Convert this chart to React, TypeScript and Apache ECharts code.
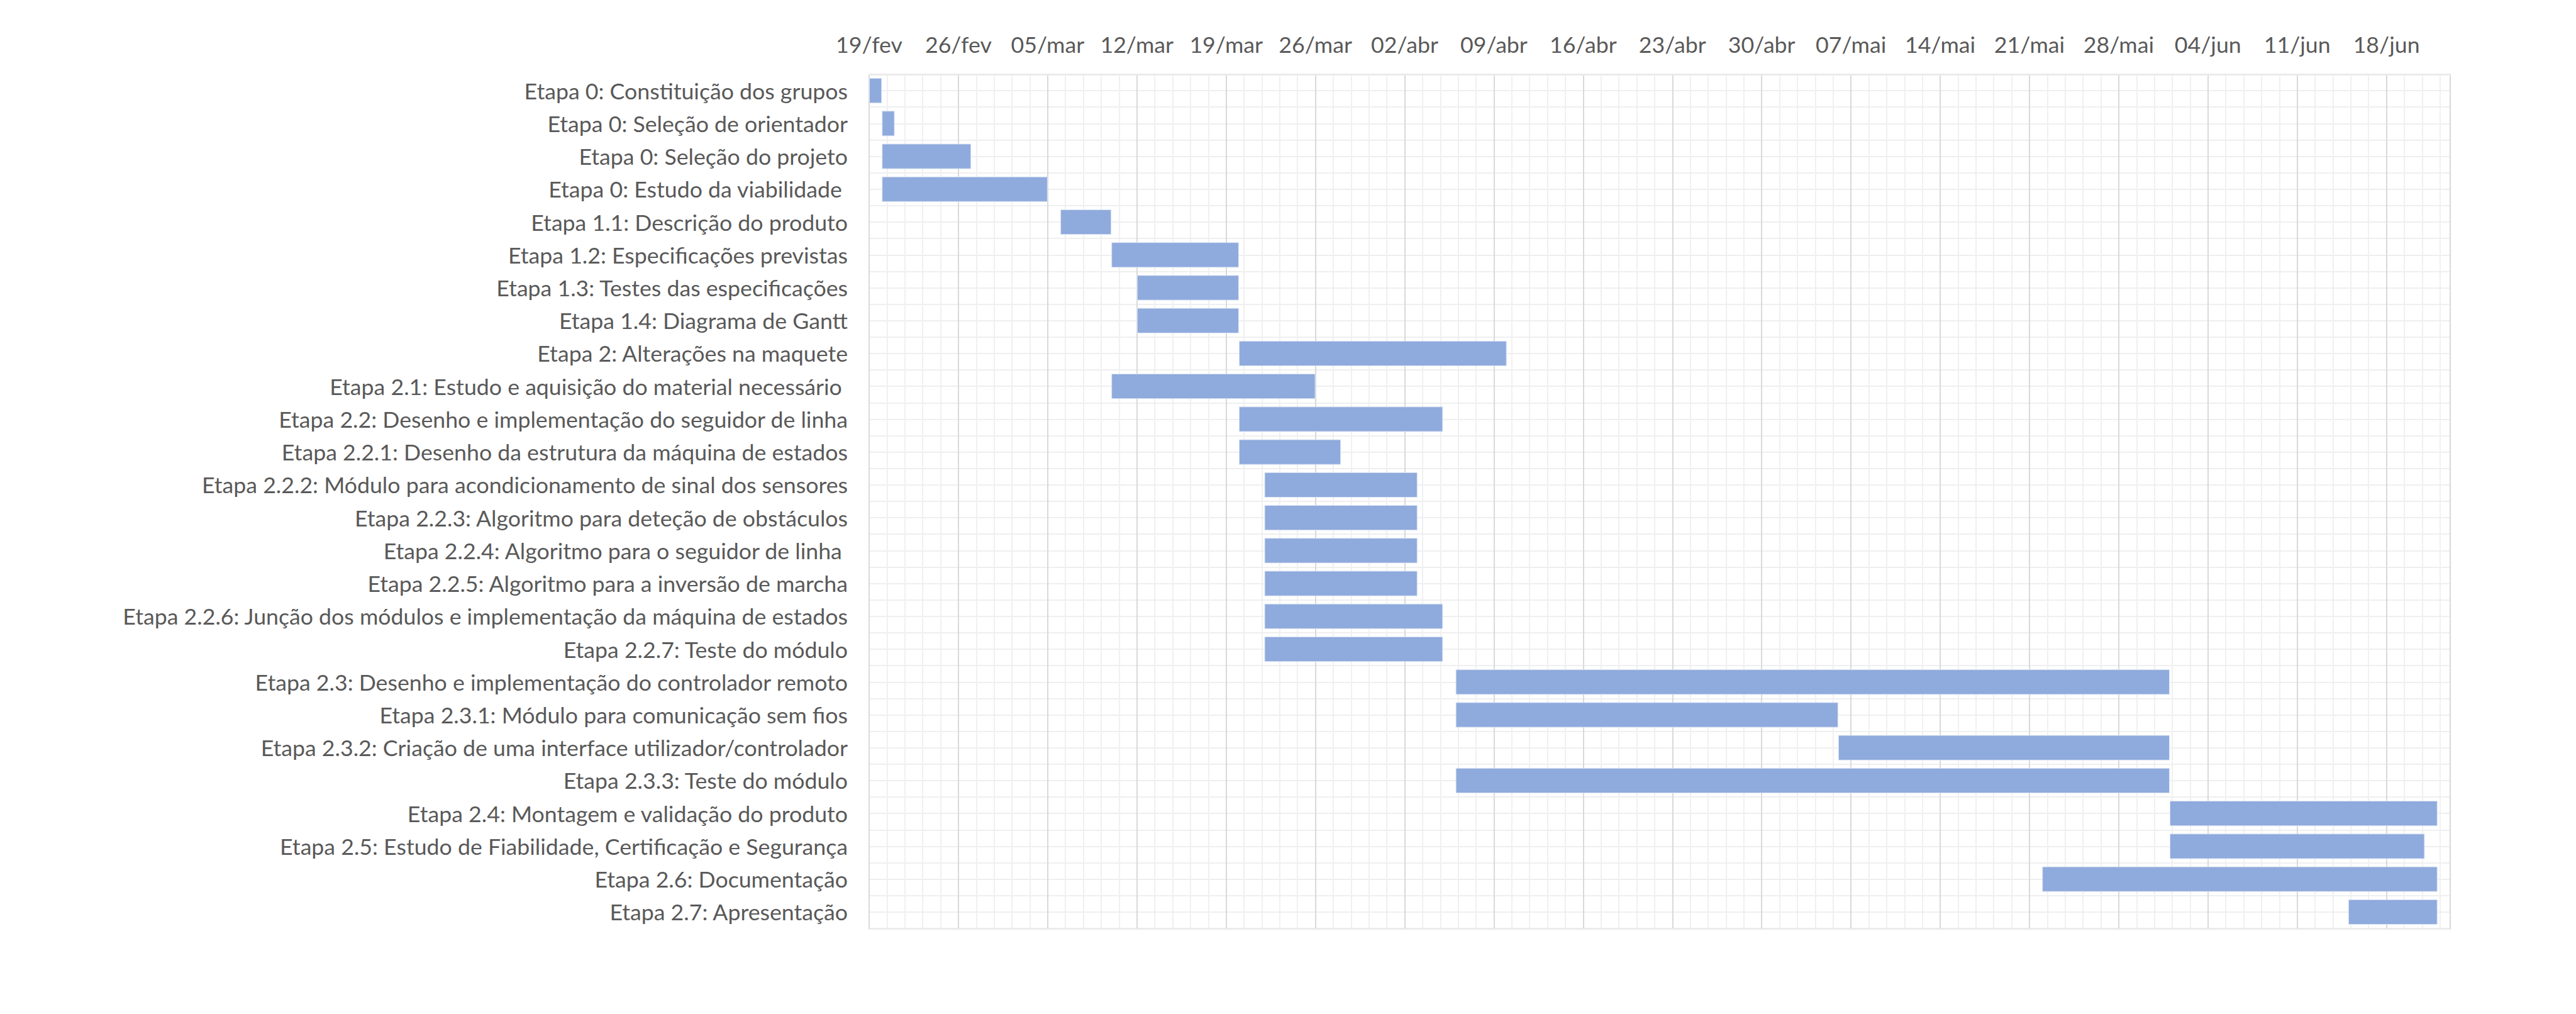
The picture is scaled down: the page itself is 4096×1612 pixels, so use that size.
import React, { useEffect, useRef } from "react";
import * as echarts from "echarts";

const categories: string[] = [
  "Etapa 0: Constituição dos grupos",
  "Etapa 0: Seleção de orientador",
  "Etapa 0: Seleção do projeto",
  "Etapa 0: Estudo da viabilidade ",
  "Etapa 1.1: Descrição do produto",
  "Etapa 1.2: Especificações previstas",
  "Etapa 1.3: Testes das especificações",
  "Etapa 1.4: Diagrama de Gantt",
  "Etapa 2: Alterações na maquete",
  "Etapa 2.1: Estudo e aquisição do material necessário ",
  "Etapa 2.2: Desenho e implementação do seguidor de linha",
  "Etapa 2.2.1: Desenho da estrutura da máquina de estados",
  "Etapa 2.2.2: Módulo para acondicionamento de sinal dos sensores",
  "Etapa 2.2.3: Algoritmo para deteção de obstáculos",
  "Etapa 2.2.4: Algoritmo para o seguidor de linha ",
  "Etapa 2.2.5: Algoritmo para a inversão de marcha",
  "Etapa 2.2.6: Junção dos módulos e implementação da máquina de estados",
  "Etapa 2.2.7: Teste do módulo",
  "Etapa 2.3: Desenho e implementação do controlador remoto",
  "Etapa 2.3.1: Módulo para comunicação sem fios",
  "Etapa 2.3.2: Criação de uma interface utilizador/controlador",
  "Etapa 2.3.3: Teste do módulo",
  "Etapa 2.4: Montagem e validação do produto",
  "Etapa 2.5: Estudo de Fiabilidade, Certificação e Segurança",
  "Etapa 2.6: Documentação",
  "Etapa 2.7: Apresentação",
];

const startDates: string[] = [
  "2018-02-19", "2018-02-20", "2018-02-20", "2018-02-20",
  "2018-03-06", "2018-03-10", "2018-03-12", "2018-03-12",
  "2018-03-20", "2018-03-10", "2018-03-20", "2018-03-20",
  "2018-03-22", "2018-03-22", "2018-03-22", "2018-03-22",
  "2018-03-22", "2018-03-22", "2018-04-06", "2018-04-06",
  "2018-05-06", "2018-04-06", "2018-06-01", "2018-06-01",
  "2018-05-22", "2018-06-15",
];

const endDates: string[] = [
  "2018-02-20", "2018-02-21", "2018-02-27", "2018-03-05",
  "2018-03-10", "2018-03-20", "2018-03-20", "2018-03-20",
  "2018-04-10", "2018-03-26", "2018-04-05", "2018-03-28",
  "2018-04-03", "2018-04-03", "2018-04-03", "2018-04-03",
  "2018-04-05", "2018-04-05", "2018-06-01", "2018-05-06",
  "2018-06-01", "2018-06-01", "2018-06-22", "2018-06-21",
  "2018-06-22", "2018-06-22",
];

const tickLabels: string[] = [
  "19/fev", "26/fev", "05/mar", "12/mar", "19/mar", "26/mar",
  "02/abr", "09/abr", "16/abr", "23/abr", "30/abr", "07/mai",
  "14/mai", "21/mai", "28/mai", "04/jun", "11/jun", "18/jun",
];

const axisStart = "2018-02-19";
const axisEnd = "2018-06-23";

const DAY = 86400000;
const toDays = (s: string) =>
  Math.round((Date.parse(s + "T00:00:00Z") - Date.parse(axisStart + "T00:00:00Z")) / DAY);

export default function App() {
  const ref = useRef<HTMLDivElement>(null);

  useEffect(() => {
    if (!ref.current) return;
    const chart = echarts.init(ref.current, undefined, { renderer: "svg" });
    const starts = startDates.map(toDays);
    const durations = endDates.map((e, i) => toDays(e) - starts[i]);
    const maxDay = toDays(axisEnd);
    const font = "Lato, 'Open Sans', sans-serif";
    const textColor = "#595959";

    chart.setOption({
      animation: false,
      backgroundColor: "#ffffff",
      grid: { left: 1382, right: 200, top: 118, bottom: 136, containLabel: false },
      xAxis: [
        {
          type: "value",
          position: "top",
          min: 0,
          max: maxDay,
          interval: 7,
          z: 2,
          axisLine: { show: true, lineStyle: { color: "#EBEBEB", width: 3 } },
          axisTick: { show: false },
          axisLabel: {
            show: true,
            margin: 30,
            fontSize: 35.7,
            fontFamily: font,
            color: textColor,
            showMaxLabel: false,
            formatter: (v: number) => {
              const i = Math.round(v / 7);
              return Math.abs(v - i * 7) < 1e-6 && tickLabels[i] ? tickLabels[i] : "";
            },
          },
          splitLine: { show: true, lineStyle: { color: "#D9D9D9", width: 2 } },
        },
        {
          type: "value",
          position: "bottom",
          min: 0,
          max: maxDay,
          interval: 1.4,
          z: 0,
          axisLine: { show: true, lineStyle: { color: "#EBEBEB", width: 3 } },
          axisTick: { show: false },
          axisLabel: { show: false },
          splitLine: { show: true, lineStyle: { color: "#F0F0F0", width: 2 } },
        },
      ],
      yAxis: [
        {
          type: "category",
          inverse: true,
          data: categories,
          z: 1,
          axisLine: { show: false },
          axisTick: { show: false },
          splitLine: { show: false },
          axisLabel: {
            margin: 34,
            fontSize: 35.7,
            fontFamily: font,
            color: textColor,
          },
        },
        {
          type: "value",
          inverse: true,
          min: 0,
          max: categories.length,
          interval: 0.5,
          z: 0,
          position: "right",
          axisLine: { show: false },
          axisTick: { show: false },
          axisLabel: { show: false },
          splitLine: { show: true, lineStyle: { color: "#EFEFEF", width: 2 } },
        },
      ],
      series: [
        {
          name: "Início",
          type: "bar",
          stack: "gantt",
          xAxisIndex: 0,
          yAxisIndex: 0,
          barCategoryGap: "23%",
          itemStyle: { color: "rgba(0,0,0,0)" },
          emphasis: { disabled: true },
          data: starts,
        },
        {
          name: "Duração",
          type: "bar",
          stack: "gantt",
          xAxisIndex: 0,
          yAxisIndex: 0,
          barCategoryGap: "23%",
          itemStyle: { color: "#8FAADC", borderColor: "#DCE5F5", borderWidth: 1 },
          emphasis: { disabled: true },
          data: durations,
        },
      ],
    });

    return () => chart.dispose();
  }, []);

  return (
    <div
      ref={ref}
      style={{ position: "fixed", left: 0, top: 0, width: 4096, height: 1612, background: "#fff" }}
    />
  );
}
